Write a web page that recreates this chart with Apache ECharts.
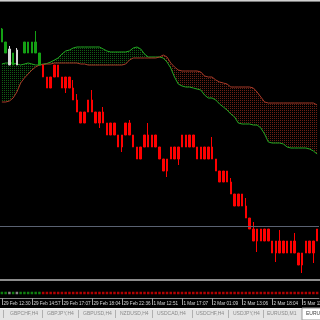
<!DOCTYPE html>
<html><head><meta charset="utf-8">
<script src="https://cdn.jsdelivr.net/npm/echarts@6/dist/echarts.min.js"></script>
<style>html,body{margin:0;padding:0;background:#000;}#c{width:320px;height:320px;}</style>
</head><body><div id="c"></div>
<script>
// ---- Candle data (price units) ----
const opens = [258,247,235,235,235,'-',247,247,247,247,235,
  235,223,223,235,235,223,223,223,212,200,
  188,188,200,200,188,188,188,177,177,177,
  165,165,177,177,165,153,153,165,165,165,
  165,153,141,141,153,153,153,165,165,165,
  165,153,153,153,153,153,141,129,129,129,
  118,106,106,106,94,82,71,71,71,71,
  71,59,59,59,59,59,59,59,47,47,
  59,59,59,71];
const closes = [271,258,251,247,250,'-',258,258,258,258,247,
  223,212,212,223,223,212,212,212,200,188,
  177,177,188,188,177,177,177,165,165,165,
  153,153,165,165,153,141,141,153,153,153,
  153,141,129,129,141,141,141,153,153,153,
  153,141,141,141,141,141,129,118,118,118,
  106,94,94,94,82,71,59,59,59,59,
  59,47,47,47,47,47,47,47,35,35,
  47,47,47,59];
const lows = [258,247,235,235,235,'-',247,247,247,247,235,
  223,212,212,223,223,212,207,212,200,188,
  177,177,188,188,177,172,177,165,165,165,
  153,148,165,165,153,141,141,153,153,153,
  153,141,129,123,141,141,135,153,153,153,
  153,141,141,141,141,141,129,118,118,118,
  106,94,94,94,82,71,59,48,59,59,
  59,47,38,47,47,47,47,47,35,27,
  47,47,37,59];
const highs = [272,258,254,247,252,'-',258,258,258,269,247,
  235,223,223,235,235,223,223,223,220,206,
  188,188,200,210,188,188,193,177,177,177,
  165,165,177,180,165,153,153,165,177,165,
  165,153,141,141,153,153,153,165,165,165,
  165,153,153,153,153,163,141,129,129,129,
  122,106,106,106,102,82,78,71,71,71,
  71,59,59,70,59,59,59,67,47,47,
  59,59,59,71];
// 1 = up (green), 0 = neutral (white), -1 = down (red)
const trend = [1,1,0,1,0,1,1,1,1,1,1,
  -1,-1,-1,-1,-1,-1,-1,-1,-1,-1,
  -1,-1,-1,-1,-1,-1,-1,-1,-1,-1,
  -1,-1,-1,-1,-1,-1,-1,-1,-1,-1,
  -1,-1,-1,-1,-1,-1,-1,-1,-1,-1,
  -1,-1,-1,-1,-1,-1,-1,-1,-1,-1,
  -1,-1,-1,-1,-1,-1,-1,-1,-1,-1,
  -1,-1,-1,-1,-1,-1,-1,-1,-1,-1,
  -1,-1,-1,-1];
// ---- Ichimoku spans ----
const spanA = [236,237,237,237,236,235,236,237,236,235,235,
  236,236.5,238,240,242,246,249,250,252,253,
  253,253,253,253,253,253,251,249,248,248,
  248,248,248,249,252,253,251,246,243,243,
  243,243,242,238,232,223,216,214,213,213,
  212,211,210,205,202,202,200,196,193,190,
  186,183,177,176,176,176,175,175,172,166,
  158,157,157,157,156,153,152,152,152,152,
  152,151,149,146];
const spanB = [198,198,199,202,208,217,222,226,230,233,235,
  235.5,236,236,237,237,237,237,237,237,237,
  236,236,235,235,235,235,235,235,235,235,
  235,235,236,240,242,242,242,242,242,242,
  242,243,245,243,237,233,230,229,229,229,
  229,229,228,224,223,223,220,218,217,216,
  213,213,213,213,213,213,212,208,203,198,
  197,197,197,197,197,197,197,197,197,197,
  197,197,197,195];
const priceLine = 74;
const timeLabels = ['29 Feb 12:30','29 Feb 14:57','29 Feb 17:07','29 Feb 18:04','29 Feb 22:36',
  '1 Mar 12:51','1 Mar 17:07','2 Mar 01:09','2 Mar 13:06','2 Mar 18:04','5 Mar 11:15'];
const tabs = ['GBPCHF,H4','GBPJPY,H4','GBPUSD,H4','NZDUSD,H4','USDCAD,H4','USDCHF,H4','USDJPY,H4','EURUSD,M1','EURUSD,M5'];

// ---- build ----
const UP = '#14a014', DOWN = '#ff0000', NEUT = '#d8d8d8';
const cats = opens.map((_, i) => String(i));
const candles = opens.map((o, i) => {
  if (o === '-') return '-';
  const item = { value: [o, closes[i], lows[i], highs[i]] };
  if (trend[i] === 0) item.itemStyle = { color: NEUT, color0: NEUT, borderColor: NEUT, borderColor0: NEUT };
  return item;
});
const base = spanA.map((a, i) => Math.min(a, spanB[i]));
const upDiff = spanA.map((a, i) => Math.max(a - spanB[i], 0));
const dnDiff = spanA.map((a, i) => Math.max(spanB[i] - a, 0));
function hatch(color) {
  const c = document.createElement('canvas'); c.width = 2; c.height = 2;
  const g = c.getContext('2d'); g.fillStyle = color; g.fillRect(0, 0, 1, 1);
  return { image: c, repeat: 'repeat' };
}
const dots = trend.map(t => ({ value: 1, itemStyle: { color: t > 0 ? UP : (t < 0 ? '#e00000' : '#a8a8a8') } }));

const tabX = [10, 47, 83, 120, 157, 196, 233, 267, 306];
const sepX = [3, 42, 78, 115, 152, 192, 228, 263];
const graphics = [
  { type: 'rect', shape: { x: 0, y: 0, width: 320, height: 1 }, style: { fill: '#d0d0d0' }, z: 100 },
  { type: 'rect', shape: { x: 0, y: 1, width: 320, height: 1 }, style: { fill: '#7a7a7a' }, z: 100 },
  { type: 'rect', shape: { x: 0, y: 279, width: 320, height: 2 }, style: { fill: '#8c8c8c' }, z: 100 },
  { type: 'rect', shape: { x: 0, y: 308, width: 320, height: 12 }, style: { fill: '#e4e4e4' }, z: 100 },
  { type: 'rect', shape: { x: 0, y: 308, width: 320, height: 1 }, style: { fill: '#f4f4f4' }, z: 100 },
  { type: 'rect', shape: { x: 302, y: 308, width: 20, height: 12 }, style: { fill: '#ffffff', stroke: '#9a9a9a', lineWidth: 1 }, z: 101 }
];
sepX.forEach(x => graphics.push({ type: 'rect', shape: { x: x, y: 310, width: 1, height: 8 }, style: { fill: '#b0b0b0' }, z: 101 }));
tabs.forEach((t, i) => graphics.push({ type: 'text', x: tabX[i], y: 314, style: { text: t, fill: i === tabs.length - 1 ? '#404040' : '#8a8a8a', font: '5px "Liberation Sans"', verticalAlign: 'middle' }, z: 102 }));

const option = {
  backgroundColor: '#000',
  animation: false,
  grid: [
    { left: 0, width: 319, top: 0, height: 280, outerBoundsMode: 'none' },
    { left: 0, width: 319, top: 288, height: 10, outerBoundsMode: 'none' }
  ],
  xAxis: [
    { gridIndex: 0, type: 'category', data: cats, boundaryGap: true, show: false },
    { gridIndex: 1, type: 'category', data: cats, boundaryGap: true,
      axisLine: { show: true, lineStyle: { color: '#8a8a8a', width: 1 } },
      axisTick: { show: true, interval: 7, alignWithLabel: true, length: 7, lineStyle: { color: '#a0a0a0' } },
      axisLabel: { interval: 7, showMinLabel: true, hideOverlap: false, color: '#d8d8d8', fontSize: 4.6, fontFamily: 'Liberation Sans', align: 'left', margin: 3, padding: [0, 0, 0, 1.5],
        formatter: (v, idx) => timeLabels[Math.round(idx / 8)] || '' },
      splitLine: { show: false } }
  ],
  yAxis: [
    { gridIndex: 0, type: 'value', min: 20, max: 300, show: false, splitLine: { show: false } },
    { gridIndex: 1, type: 'value', min: 0, max: 2, show: false, splitLine: { show: false } }
  ],
  series: [
    { name: 'base', type: 'line', data: base, stack: 'cloud', symbol: 'none', lineStyle: { opacity: 0 }, silent: true, z: 1 },
    { name: 'upCloud', type: 'line', data: upDiff, stack: 'cloud', symbol: 'none', lineStyle: { opacity: 0 }, areaStyle: { color: hatch('#125c14'), opacity: 1 }, silent: true, z: 1 },
    { name: 'dnCloud', type: 'line', data: dnDiff, stack: 'cloud', symbol: 'none', lineStyle: { opacity: 0 }, areaStyle: { color: hatch('#6a2014'), opacity: 1 }, silent: true, z: 1 },
    { name: 'SpanA', type: 'line', data: spanA, symbol: 'none', lineStyle: { color: '#22a822', width: 1 }, z: 2 },
    { name: 'SpanB', type: 'line', data: spanB, symbol: 'none', lineStyle: { color: '#a83a28', width: 1 }, z: 2 },
    { name: 'Price', type: 'candlestick', data: candles, barWidth: 2,
      itemStyle: { color: UP, color0: DOWN, borderColor: UP, borderColor0: DOWN, borderWidth: 1 },
      markLine: { silent: true, symbol: 'none', label: { show: false }, lineStyle: { color: '#5a6272', width: 1, type: 'solid' }, data: [{ yAxis: priceLine }] },
      z: 3 },
    { name: 'Trend', type: 'scatter', xAxisIndex: 1, yAxisIndex: 1, data: dots, symbol: 'rect', symbolSize: [2.5, 2.5], z: 3 }
  ],
  graphic: graphics
};
const chart = echarts.init(document.getElementById('c'), null, { width: 320, height: 320 });
chart.setOption(option);
</script>
</body></html>
